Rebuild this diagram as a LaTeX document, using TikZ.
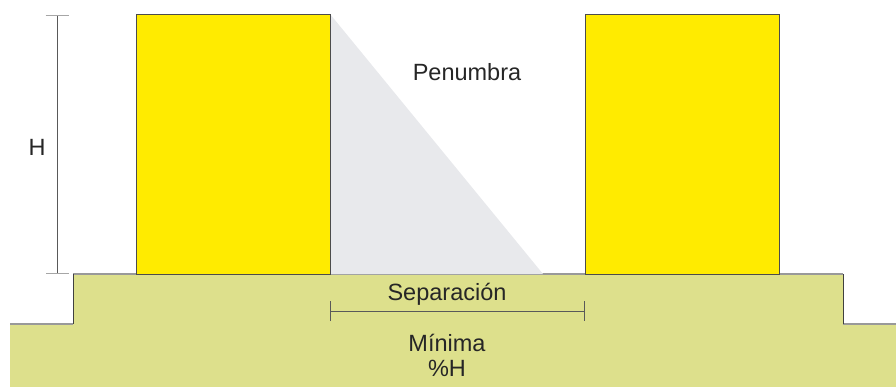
\documentclass[tikz,border=0pt]{standalone}
\usepackage{fontspec}
\setmainfont{Liberation Sans}
\usetikzlibrary{positioning,arrows.meta,backgrounds}

\definecolor{bldg}{RGB}{255,235,0}
\definecolor{groundcol}{RGB}{221,224,140}
\definecolor{penumbracol}{RGB}{232,233,236}

\tikzstyle{block}=[draw=black!70, fill=bldg, minimum width=194pt, minimum height=260pt, inner sep=0pt, outer sep=0pt]
\tikzstyle{lbl}=[font=\fontsize{23.5}{27}\selectfont, text=black!85, inner sep=0pt]
\tikzstyle{dim}=[draw=black!65, line width=1pt]

\begin{document}
\begin{tikzpicture}[x=1pt, y=-1pt]
    \useasboundingbox (0,0) rectangle (896,387);
    % buildings
    \node [block, anchor=north west] (left) at (136,14) {};
    \node [block, right=255pt of left] (right) {};
    \coordinate (tip) at (543,274);
    \begin{pgfonlayer}{background}
        \fill[groundcol] (10,324) -- (73,324) -- (73,274) -- (843,274) -- (843,324)
            -- (896,324) -- (896,387) -- (10,387) -- cycle;
        \draw[black!40, line width=1.5pt] (10,324) -- (73,324) (73,274) -- (843,274) (843,324) -- (896,324);
        \draw[black!75, line width=1pt] (73,324) -- (73,274) (843,274) -- (843,324);
        \fill[penumbracol] (left.north east) -- (tip) -- (left.south east) -- cycle;
    \end{pgfonlayer}
    % height
    \coordinate (htop) at (57,15);
    \coordinate (hbot) at (57,274);
    \draw[dim, {Bar[width=23pt,black!35]}-{Bar[width=23pt,black!35]}] (htop) -- (hbot);
    \node [lbl] (h) at (37,147) {H};
    % separation
    \coordinate (sepl) at (330,311);
    \coordinate (sepr) at (585,311);
    \draw[dim, {Bar[width=20pt]}-{Bar[width=20pt]}] (sepl) -- (sepr);
    \node [lbl] (sep) at (447,294) {Separación};
    \node [lbl] (min) at (447,343) {Mínima};
    \node [lbl] (pct) at (447,368) {\%H};
    \node [lbl] (pen) at (467,72) {Penumbra};
\end{tikzpicture}
\end{document}
